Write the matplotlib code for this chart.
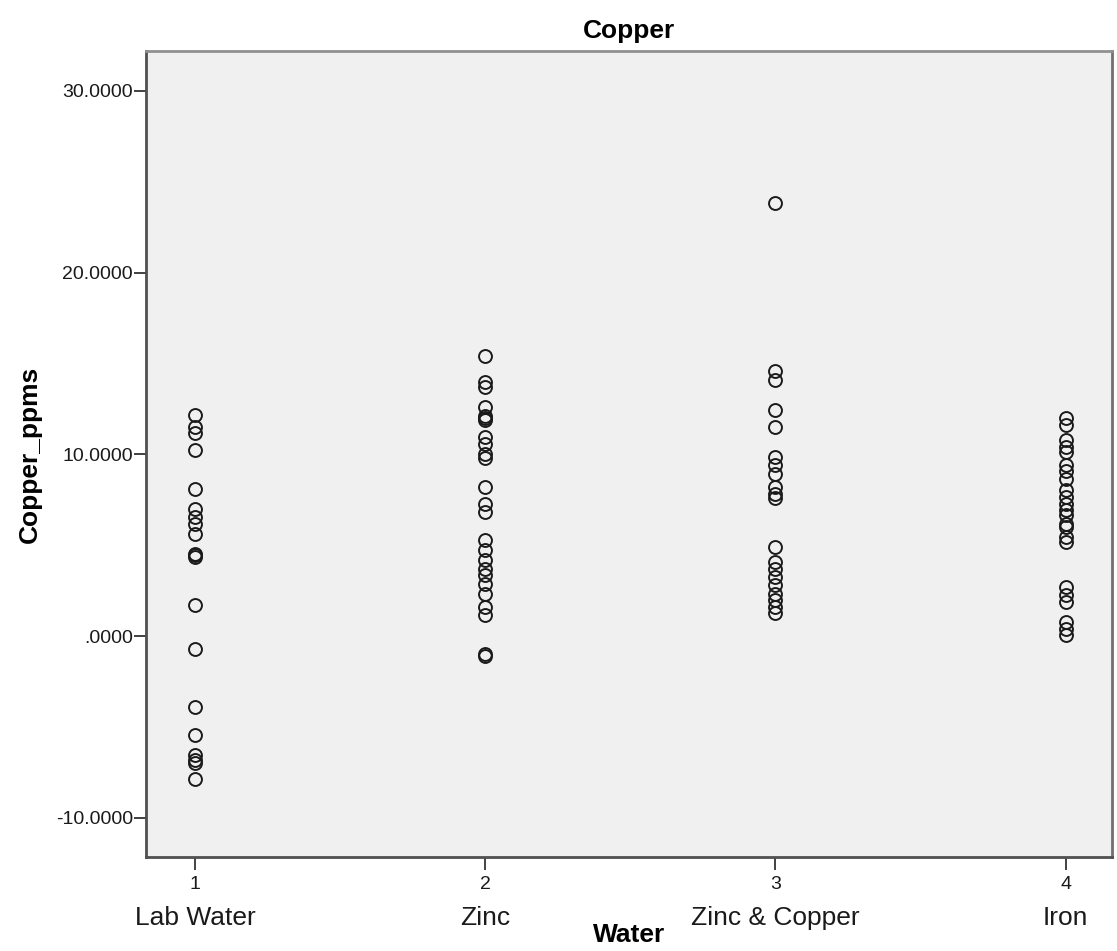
import matplotlib.pyplot as plt
import numpy as np

# group codes and names
codes = [1, 2, 3, 4]
names = ["Lab Water", "Zinc", "Zinc & Copper", "Iron"]

# Copper_ppms, one list per water type
lab_water = [12.15, 11.5, 11.2, 10.25, 8.1, 7.0, 6.55, 6.2, 5.65, 4.55, 4.45, 4.35,
             1.7, -0.7, -3.9, -5.45, -6.55, -6.8, -7.0, -7.85]
zinc = [15.4, 14.0, 13.7, 12.6, 12.1, 12.0, 11.9, 10.95, 10.6, 10.05, 9.8, 8.2,
        7.3, 6.85, 5.3, 4.75, 4.2, 3.7, 3.35, 2.9, 2.35, 1.6, 1.15, -1.0, -1.1]
zinc_copper = [23.85, 14.6, 14.1, 12.45, 11.5, 9.85, 9.4, 8.95, 8.2, 7.85, 7.6,
               4.9, 4.1, 3.7, 3.25, 2.8, 2.35, 2.0, 1.6, 1.25]
iron = [12.0, 11.6, 10.8, 10.4, 10.15, 9.4, 9.1, 8.65, 8.05, 7.65, 7.3, 6.95, 6.65,
        6.2, 6.0, 5.45, 5.2, 2.7, 2.25, 1.9, 0.8, 0.4, 0.05]
groups = [lab_water, zinc, zinc_copper, iron]

yticks = [-10, 0, 10, 20, 30]
ytick_labels = ["-10.0000", ".0000", "10.0000", "20.0000", "30.0000"]

plt.rcParams['font.family'] = ['Liberation Sans', 'DejaVu Sans']

fig = plt.figure(figsize=(11.17, 9.51), dpi=100)
ax = fig.add_axes([0.1307, 0.0988, 0.8648, 0.8476])
ax.set_facecolor('#f0f0f0')

for code, vals in zip(codes, groups):
    ax.plot([code] * len(vals), vals, linestyle='none', marker='o', markersize=9.3,
            markerfacecolor='none', markeredgecolor='#1a1a1a', markeredgewidth=1.4)

ax.set_xlim(0.83, 4.16)
ax.set_ylim(-12.15, 32.2)
ax.set_yticks(yticks)
ax.set_yticklabels(ytick_labels, fontsize=14, color='#1a1a1a')
ax.set_xticks(codes)
ax.set_xticklabels([str(c) for c in codes], fontsize=14, color='#1a1a1a')
ax.tick_params(length=9, width=1.3, color='#333333')
ax.tick_params(axis='x', pad=5)
ax.tick_params(axis='y', pad=0.5)

for code, name in zip(codes, names):
    ax.text(code, -0.0844, name, transform=ax.get_xaxis_transform(),
            ha='center', va='baseline', fontsize=19, color='#1a1a1a')

for side in ['left', 'bottom', 'top', 'right']:
    ax.spines[side].set_linewidth(2)
    ax.spines[side].set_color('#505050')
ax.spines['top'].set_color('#909090')
ax.spines['right'].set_color('#707070')

ax.set_title("Copper", fontsize=19, fontweight='bold', pad=9)
ax.set_ylabel("Copper_ppms", fontsize=19, fontweight='bold', labelpad=10)
ax.text(0.5, -0.105, "Water", transform=ax.transAxes, ha='center', va='baseline',
        fontsize=19, fontweight='bold')

fig.savefig("out.png", dpi=100)
